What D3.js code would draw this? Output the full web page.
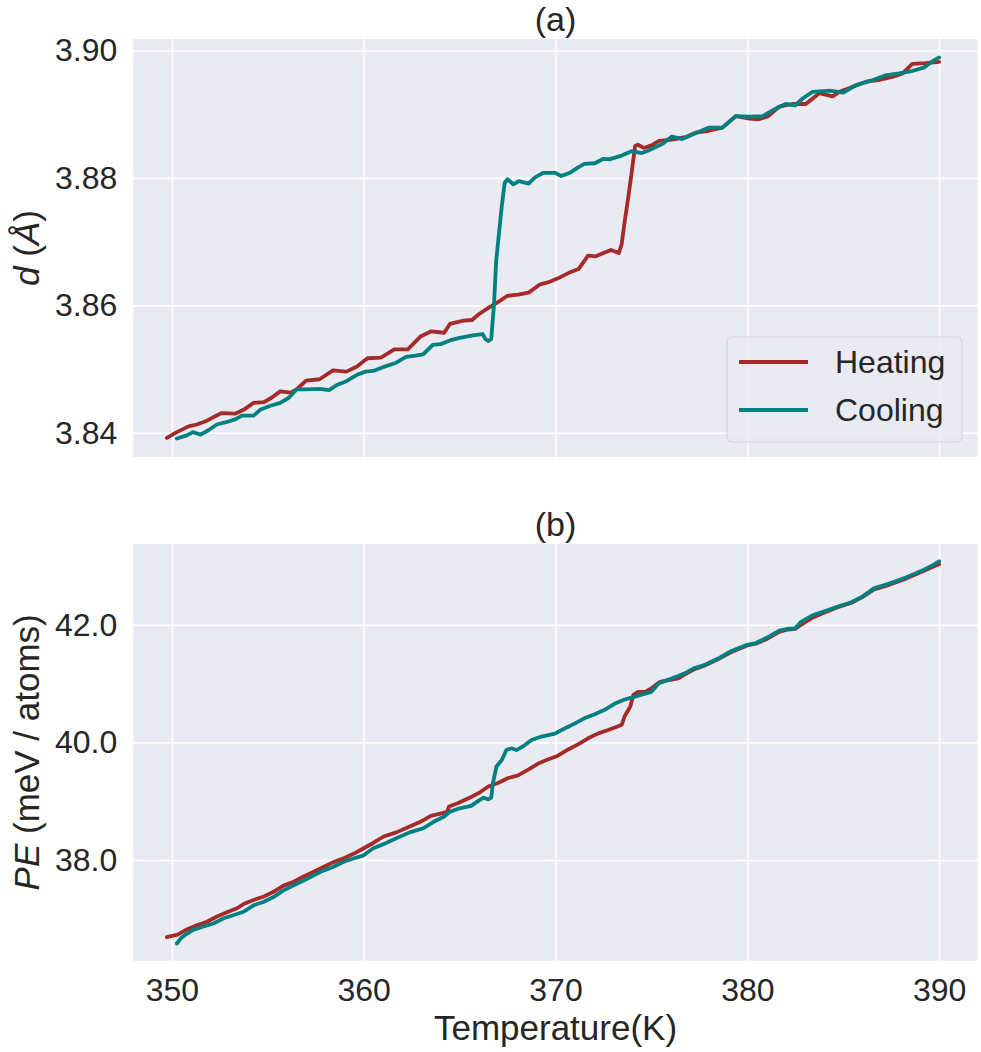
<!DOCTYPE html>
<html>
<head>
<meta charset="utf-8">
<script src="https://cdn.jsdelivr.net/npm/d3@7"></script>
<style>
  body { margin: 0; background: #ffffff; }
  svg { display: block; font-family: "Liberation Sans", Arial, sans-serif; }
</style>
</head>
<body>
<svg id="chart" width="981" height="1052"></svg>
<script>
// ---------- DATA ----------
const xTicks = [350, 360, 370, 380, 390];
const dTicks = [3.84, 3.86, 3.88, 3.90];
const peTicks = [38.0, 40.0, 42.0];
const seriesNames = ["Heating", "Cooling"];

// panel (a): lattice spacing d (Å)
const heatT_a = [349.74,350.26,350.87,351.3,351.83,352.26,352.6,353.3,353.74,354.26,354.8,355.2,355.65,356.2,356.5,357.0,357.7,358.4,359.1,359.65,360.2,360.9,361.6,362.3,362.96,363.5,364.2,364.5,365.2,365.65,366.0,366.5,367.0,367.5,368.05,368.6,369.2,369.6,370.1,370.7,371.2,371.7,372.1,372.5,372.9,373.3,373.45,373.6,373.8,373.97,374.15,374.3,374.6,375.0,375.4,376.07,376.77,377.3,378.0,378.7,379.4,380.1,380.6,381.1,381.66,382.36,383.05,383.75,384.45,384.8,385.5,386.2,386.9,387.6,388.1,388.6,389.3,390.0];
const heatD = [3.8392,3.8401,3.8410,3.8413,3.8419,3.8426,3.8431,3.8430,3.8436,3.8447,3.8448,3.8455,3.8465,3.8463,3.8468,3.8482,3.8484,3.8498,3.8496,3.8504,3.8517,3.8518,3.8531,3.8531,3.8551,3.8559,3.8557,3.8571,3.8576,3.8577,3.8586,3.8596,3.8605,3.8615,3.8617,3.8620,3.8633,3.8636,3.8642,3.8651,3.8657,3.8678,3.8677,3.8682,3.8687,3.8682,3.8696,3.8730,3.8771,3.8808,3.8850,3.8852,3.8847,3.8851,3.8858,3.8860,3.8864,3.8871,3.8874,3.8879,3.8897,3.8893,3.8892,3.8897,3.8912,3.8916,3.8916,3.8933,3.8928,3.8935,3.8943,3.8951,3.8954,3.8959,3.8964,3.8979,3.8980,3.8982];

const coolT_a = [350.26,350.78,351.1,351.5,351.9,352.35,352.87,353.3,353.65,354.26,354.6,355.1,355.65,356.1,356.5,357.0,357.7,358.2,358.6,359.1,359.65,360.1,360.5,361.0,361.7,362.2,362.7,363.1,363.6,364.0,364.5,365.0,365.7,366.2,366.35,366.5,366.65,366.8,366.9,367.04,367.2,367.35,367.5,367.8,368.1,368.6,368.9,369.35,369.97,370.3,370.75,371.2,371.5,372.05,372.5,372.8,373.45,373.97,374.5,374.85,375.55,376.07,376.6,377.3,378.0,378.7,379.4,380.1,380.8,381.5,382.0,382.5,382.9,383.4,384.3,385.0,385.7,386.6,387.2,387.9,388.5,389.2,389.6,390.0];
const coolD = [3.8391,3.8396,3.8401,3.8397,3.8404,3.8413,3.8417,3.8421,3.8427,3.8427,3.8436,3.8442,3.8447,3.8455,3.8468,3.8468,3.8469,3.8467,3.8475,3.8481,3.8491,3.8496,3.8497,3.8503,3.8510,3.8519,3.8521,3.8523,3.8538,3.8539,3.8545,3.8549,3.8553,3.8555,3.8547,3.8544,3.8547,3.8604,3.8667,3.8709,3.8756,3.8792,3.8798,3.8790,3.8795,3.8791,3.8800,3.8808,3.8808,3.8803,3.8808,3.8817,3.8822,3.8823,3.8830,3.8829,3.8835,3.8842,3.8839,3.8843,3.8853,3.8865,3.8861,3.8870,3.8879,3.8879,3.8897,3.8896,3.8897,3.8909,3.8916,3.8914,3.8925,3.8935,3.8937,3.8934,3.8946,3.8954,3.8961,3.8964,3.8967,3.8973,3.8982,3.8989];

// panel (b): potential energy PE (meV / atoms)
const heatT_b = [349.74,350.3,350.78,351.3,351.83,352.35,352.87,353.4,353.74,354.26,354.8,355.3,355.8,356.35,356.87,357.4,357.9,358.4,358.96,359.5,360.0,360.5,361.04,361.7,362.4,362.96,363.5,364.0,364.35,364.45,364.87,365.6,366.1,366.5,367.0,367.5,368.05,368.6,369.1,369.6,370.1,370.66,371.2,371.7,372.2,372.75,373.3,373.45,373.6,373.9,374.06,374.3,374.67,375.0,375.45,375.9,376.4,376.77,377.2,377.8,378.5,379.2,380.0,380.44,380.96,381.66,382.1,382.5,382.8,383.4,384.1,384.8,385.4,386.0,386.6,387.4,388.3,389.16,389.7,390.0];
const heatPE = [36.69,36.73,36.82,36.89,36.95,37.04,37.11,37.18,37.25,37.32,37.38,37.46,37.56,37.63,37.72,37.80,37.88,37.96,38.03,38.11,38.20,38.29,38.40,38.47,38.57,38.65,38.75,38.79,38.82,38.91,38.96,39.07,39.16,39.25,39.31,39.39,39.44,39.54,39.64,39.71,39.77,39.88,39.97,40.07,40.15,40.21,40.28,40.30,40.44,40.61,40.81,40.86,40.86,40.92,41.03,41.06,41.09,41.16,41.24,41.31,41.42,41.54,41.65,41.68,41.75,41.88,41.92,41.93,42.00,42.12,42.22,42.31,42.37,42.47,42.60,42.68,42.79,42.91,42.99,43.03];

const coolT_b = [350.26,350.5,350.78,351.1,351.65,352.17,352.7,353.2,353.74,354.26,354.8,355.3,355.8,356.35,356.87,357.4,357.9,358.4,358.96,359.5,360.0,360.5,361.04,361.7,362.4,363.1,363.65,364.2,364.5,365.0,365.6,366.0,366.26,366.5,366.65,366.74,366.92,367.2,367.44,367.7,367.96,368.3,368.75,369.27,369.97,370.5,371.0,371.5,372.05,372.6,373.1,373.6,374.15,374.67,375.0,375.37,375.9,376.4,376.77,377.2,377.8,378.5,379.2,380.0,380.44,380.96,381.66,382.1,382.5,382.8,383.4,384.1,384.8,385.4,386.0,386.6,387.4,388.3,389.16,389.7,390.0];
const coolPE = [36.58,36.68,36.745,36.81,36.87,36.92,37.01,37.06,37.12,37.23,37.29,37.37,37.48,37.57,37.65,37.74,37.82,37.88,37.97,38.03,38.08,38.20,38.27,38.37,38.47,38.54,38.65,38.74,38.82,38.88,38.92,39.01,39.06,39.03,39.06,39.31,39.59,39.70,39.87,39.90,39.87,39.93,40.04,40.10,40.15,40.24,40.32,40.41,40.48,40.56,40.66,40.73,40.78,40.83,40.86,41.00,41.07,41.13,41.18,41.26,41.32,41.43,41.56,41.66,41.69,41.77,41.90,41.93,41.94,42.05,42.16,42.24,42.32,42.38,42.48,42.62,42.70,42.81,42.93,43.02,43.08];

// ---------- STYLE ----------
const colors = { Heating: "#a52a2a", Cooling: "#008080" };
const textColor = "#262626";
const bg = "#eaeaf2";
const left = 133.3, right = 977.7;

const svg = d3.select("#chart");

const x = d3.scaleLinear().domain([347.99, 392.01]).range([left, right]);

function panel(opts) {
  const { top, bottom, yDomain, yTicks, fmt, title, series, ylabel, showX } = opts;
  const y = d3.scaleLinear().domain(yDomain).range([bottom, top]);
  const g = svg.append("g");
  g.append("rect").attr("x", left).attr("y", top)
    .attr("width", right - left).attr("height", bottom - top).attr("fill", bg);

  // grid + axes
  const ya = g.append("g").attr("transform", `translate(${left},0)`)
    .call(d3.axisLeft(y).tickValues(yTicks).tickFormat(d3.format(fmt))
      .tickSizeInner(-(right - left)).tickSizeOuter(0).tickPadding(16));
  const xa = g.append("g").attr("transform", `translate(0,${bottom})`)
    .call(d3.axisBottom(x).tickValues(xTicks).tickFormat(d3.format("d"))
      .tickSizeInner(-(bottom - top)).tickSizeOuter(0).tickPadding(17));
  [ya, xa].forEach(a => {
    a.select(".domain").remove();
    a.selectAll(".tick line").attr("stroke", "#ffffff").attr("stroke-width", 1.6);
    a.selectAll(".tick text").attr("fill", textColor).style("font-size", "32px")
      .style("font-family", '"Liberation Sans", Arial, sans-serif');
  });
  if (!showX) xa.selectAll(".tick text").remove();

  // curves
  const line = d3.line().x(d => x(d[0])).y(d => y(d[1]));
  series.forEach(s => {
    const pts = s.t.map((t, i) => [t, s.v[i]]);
    g.append("path").datum(pts).attr("d", line)
      .attr("fill", "none").attr("stroke", colors[s.name])
      .attr("stroke-width", 3.8).attr("stroke-linejoin", "round").attr("stroke-linecap", "round");
  });

  // title
  g.append("text").attr("x", (left + right) / 2).attr("y", top - 8)
    .attr("text-anchor", "middle").attr("fill", textColor)
    .style("font-size", "34px").text(title);

  // y label
  const yl = g.append("text")
    .attr("transform", `translate(39,${(top + bottom) / 2}) rotate(-90)`)
    .attr("text-anchor", "middle").attr("fill", textColor).style("font-size", "35px");
  ylabel(yl);
  return y;
}

panel({
  top: 39, bottom: 457, yDomain: [3.8362, 3.9018], yTicks: dTicks, fmt: ".2f", title: "(a)",
  series: [{ name: "Heating", t: heatT_a, v: heatD }, { name: "Cooling", t: coolT_a, v: coolD }],
  ylabel: t => { t.append("tspan").style("font-style", "italic").text("d"); t.append("tspan").text(" ("); t.append("tspan").style("font-style", "italic").text("Å"); t.append("tspan").text(")"); },
  showX: false
});

panel({
  top: 543.9, bottom: 960.8, yDomain: [36.286, 43.376], yTicks: peTicks, fmt: ".1f", title: "(b)",
  series: [{ name: "Heating", t: heatT_b, v: heatPE }, { name: "Cooling", t: coolT_b, v: coolPE }],
  ylabel: t => { t.append("tspan").style("font-style", "italic").text("PE"); t.append("tspan").text(" (meV / atoms)"); },
  showX: true
});

// x label
svg.append("text").attr("x", (left + right) / 2).attr("y", 1040)
  .attr("text-anchor", "middle").attr("fill", textColor).style("font-size", "35px")
  .text("Temperature(K)");

// legend
const lg = svg.append("g");
lg.append("rect").attr("x", 727).attr("y", 337).attr("width", 235).attr("height", 105)
  .attr("rx", 5).attr("fill", bg).attr("fill-opacity", 0.8)
  .attr("stroke", "#d6d6dc").attr("stroke-width", 1.2);
seriesNames.forEach((n, i) => {
  const yy = 362 + i * 48;
  lg.append("line").attr("x1", 739).attr("x2", 808).attr("y1", yy).attr("y2", yy)
    .attr("stroke", colors[n]).attr("stroke-width", 3.8);
  lg.append("text").attr("x", 835).attr("y", yy).attr("dy", "0.35em")
    .attr("fill", textColor).style("font-size", "32px").text(n);
});
</script>
</body>
</html>
